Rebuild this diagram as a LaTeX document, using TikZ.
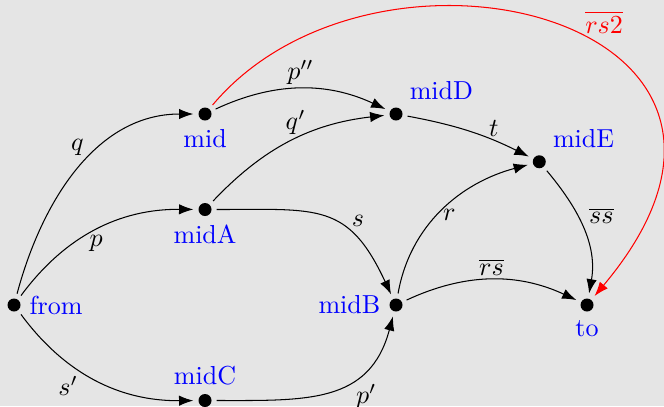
\documentclass[tikz,border=0pt]{standalone}
\usetikzlibrary{arrows.meta}

\begin{document}
\begin{tikzpicture}[
  x=1.29cm, y=1.29cm,
  >=Latex,
  %% vertex and edge styles
  vtx/.style={circle, fill=black, inner sep=0pt, outer sep=0pt,
    minimum size=5pt},
  every label/.style={text=blue},
  arr/.style={-{Latex[length=5.5pt, width=4pt]},
    shorten >=2pt, shorten <=2pt,
    every node/.style={inner sep=1.5pt}},
]

%% background and margins
\fill[gray!20] (-0.147,-1.058) rectangle (6.806,3.194);
\useasboundingbox (-0.147,-1.058) rectangle (6.806,3.194);

%% =========================================================
%% VERTICES
%% =========================================================
\node[vtx, label=right:from]       (from) at (0,0)     {};
\node[vtx, label=below:mid]        (mid)  at (2,2)     {};
\node[vtx, label=below:midA]       (midA) at (2,1)     {};
\node[vtx, label=above:midC]       (midC) at (2,-1)    {};
\node[vtx, label=above right:midD] (midD) at (4,2)     {};
\node[vtx, label=above right:midE] (midE) at (5.5,1.5) {};
\node[vtx, label=left:midB]        (midB) at (4,0)     {};
\node[vtx, label=below:to]         (to)   at (6,0)     {};

%% =========================================================
%% EDGES
%% =========================================================
%% out of from
\draw[arr] (from) to[out=75, in=180]
  node[pos=0.55, above left] {$q$} (mid);
\draw[arr] (from) to[bend left=27]
  node[pos=0.5, below] {$p$} (midA);
\draw[arr] (from) to[bend right=27]
  node[pos=0.42, below left] {$s'$} (midC);

%% middle layer
\draw[arr] (mid)  to[bend left=25]
  node[pos=0.5, above] {$p''$} (midD);
\draw[arr] (midA) to[bend left=20]
  node[pos=0.53, above] {$q'$} (midD);
\draw[arr] (midA) to[out=0, in=115, looseness=1.35]
  node[pos=0.65, above right] {$s$} (midB);
\draw[arr] (midC) to[out=0, in=-105, looseness=1.2]
  node[pos=0.63, below right] {$p'$} (midB);
\draw[arr] (midD) to[bend left=8]
  node[pos=0.7, above] {$t$} (midE);
\draw[arr] (midB) to[out=80, in=195]
  node[pos=0.47, right] {$r$} (midE);

%% into to
\draw[arr] (midE) to[out=-50, in=80]
  node[pos=0.4, right=3pt] {$\overline{ss}$} (to);
\draw[arr] (midB) to[bend left=25]
  node[pos=0.5, above] {$\overline{rs}$} (to);
\draw[arr, red] (mid) .. controls +(50:2.8) and +(50:3.9) ..
  node[pos=0.55, above right] {$\overline{rs2}$} (to);

\end{tikzpicture}
\end{document}
